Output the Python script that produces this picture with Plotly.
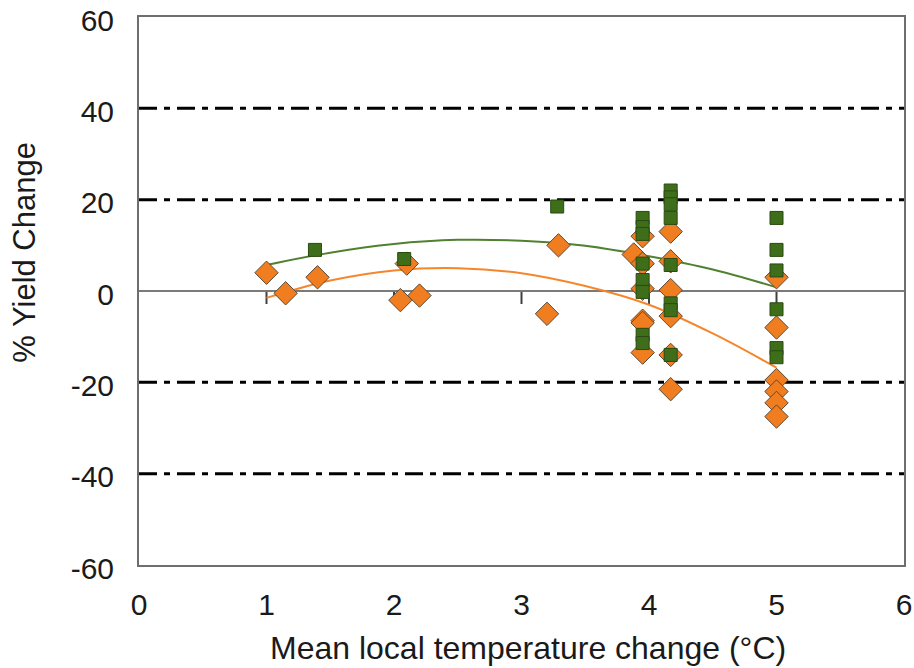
import plotly.graph_objects as go

# ---- data ----
green_x = [1.38, 2.08, 3.28, 3.95, 3.95, 3.95, 3.95, 3.95, 3.95, 3.95, 3.95,
           4.17, 4.17, 4.17, 4.17, 4.17, 4.17, 4.17, 4.17, 5, 5, 5, 5, 5, 5]
green_y = [9, 7, 18.5, 16, 14, 12.5, 6, 2.4, -0.2, -9.6, -11.4,
           22, 20.5, 19, 16, 5.7, -2.7, -4.2, -14, 16, 9, 4.5, -4, -12.5, -14.5]

orange_x = [1.0, 1.15, 1.4, 2.1, 2.05, 2.2, 3.2, 3.29, 3.88, 3.95, 3.95, 3.95, 3.95,
            3.95, 3.95, 4.17, 4.17, 4.17, 4.17, 4.17, 4.17, 5, 5, 5, 5, 5, 5]
orange_y = [4, -0.5, 3, 6, -2, -1, -5, 10, 8, 12, 6, 0.5, -6.5,
            -7, -13.5, 13, 6.5, 0.2, -5.5, -14, -21.5, 3, -8, -19.5, -22, -24.5, -27.5]

# trend lines
trend_x = [1.0, 1.5, 2.0, 2.5, 3.0, 3.5, 4.0, 4.5, 5.0]
green_trend = [5.7, 8.4, 10.3, 11.2, 11.0, 9.9, 7.6, 4.7, 0.8]
orange_trend = [-1.5, 2.3, 4.5, 5.0, 3.9, 1.1, -3.0, -9.3, -16.8]

x_ticks = [0, 1, 2, 3, 4, 5, 6]
y_ticks = [-60, -40, -20, 0, 20, 40, 60]
grid_levels = [-40, -20, 20, 40]
axis_marks = [1, 2, 3, 4, 5]

x_title = "Mean local temperature change (°C)"
y_title = "% Yield Change"

GREEN = "#3f6e1b"
GREEN_LINE = "#4f8130"
ORANGE = "#f07d1f"
ORANGE_LINE = "#f5862c"
FONT = "Liberation Sans, Arial, sans-serif"

fig = go.Figure()

fig.add_trace(go.Scatter(x=trend_x, y=green_trend, mode="lines", line_shape="spline",
                         line=dict(color=GREEN_LINE, width=2), hoverinfo="skip"))
fig.add_trace(go.Scatter(x=trend_x, y=orange_trend, mode="lines", line_shape="spline",
                         line=dict(color=ORANGE_LINE, width=2), hoverinfo="skip"))
fig.add_trace(go.Scatter(x=orange_x, y=orange_y, mode="markers",
                         marker=dict(symbol="diamond", size=18, color=ORANGE,
                                     line=dict(color="#5a4a3a", width=1))))
fig.add_trace(go.Scatter(x=green_x, y=green_y, mode="markers",
                         marker=dict(symbol="square", size=13, color=GREEN,
                                     line=dict(color="#2a4a12", width=1))))

shapes = []
for g in grid_levels:
    shapes.append(dict(type="line", xref="x domain", yref="y", x0=0, x1=1, y0=g, y1=g,
                       line=dict(color="black", width=3, dash="18px,7px,6px,7px"),
                       layer="below"))
for m in axis_marks:
    shapes.append(dict(type="line", xref="x", yref="y", xsizemode="scaled",
                       ysizemode="pixel", yanchor=0, x0=m, x1=m, y0=0, y1=-13,
                       line=dict(color="#404040", width=2), layer="below"))

annotations = [
    dict(text=x_title, xref="x domain", yref="y domain", x=0.508, y=0,
         xanchor="center", yanchor="middle", yshift=-83, showarrow=False,
         font=dict(size=32)),
    dict(text=y_title, xref="x domain", yref="y domain", x=0, y=0.57,
         xanchor="center", yanchor="middle", xshift=-114, textangle=-90,
         showarrow=False, font=dict(size=31)),
]

fig.update_layout(
    width=914, height=668,
    margin=dict(l=139, r=10, t=17, b=103),
    paper_bgcolor="white", plot_bgcolor="white",
    showlegend=False,
    font=dict(family=FONT, size=30, color="#1a1a1a"),
    shapes=shapes,
    annotations=annotations,
    xaxis=dict(range=[0, 6], tickvals=x_ticks, ticktext=[str(v) for v in x_ticks],
               showgrid=False, zeroline=False, showline=True, mirror=True,
               linecolor="#6e6e6e", linewidth=2, ticks="", ticklabelstandoff=12,
               automargin=False, ticklabeloverflow="allow"),
    yaxis=dict(range=[-60, 60], tickvals=y_ticks, ticktext=[str(v) for v in y_ticks],
               showgrid=False, zeroline=True, zerolinecolor="#7a7a7a", zerolinewidth=2,
               showline=True, mirror=True, linecolor="#6e6e6e", linewidth=2,
               ticks="", ticklabelstandoff=17, ticklabelshift=3, automargin=False,
               ticklabeloverflow="allow"),
)

fig.write_html(
    "out.html",
    config={"displayModeBar": False},
    post_script="document.body.style.margin='0';document.body.style.overflow='hidden';",
)
